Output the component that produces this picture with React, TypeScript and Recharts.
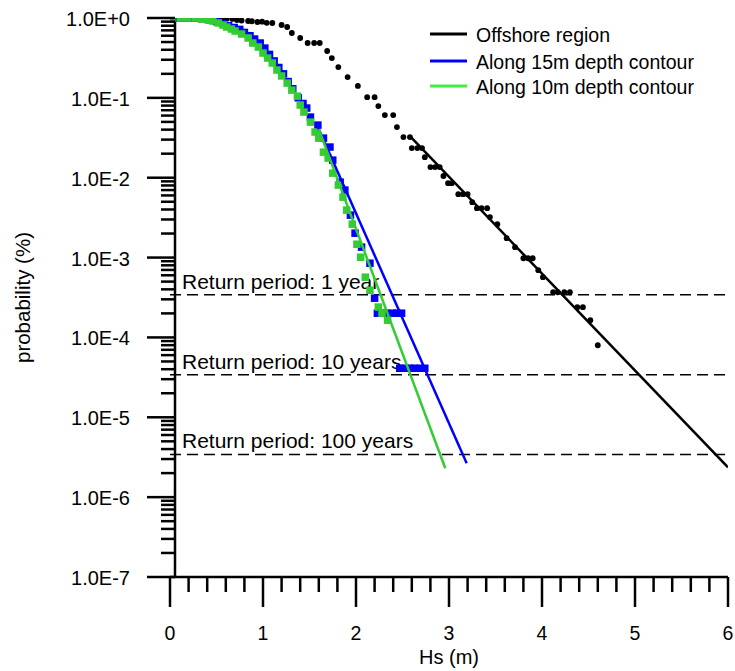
import React from 'react';
import { ScatterChart, Scatter, XAxis, YAxis, ReferenceLine, Legend } from 'recharts';

const FONT = '"Liberation Sans", Arial, Helvetica, sans-serif';

// Offshore region: empirical exceedance probability (black dots)
const offshoreHs = [
  0.05, 0.12, 0.2, 0.3, 0.38, 0.45, 0.52, 0.57, 0.61, 0.67, 0.72, 0.77, 0.84, 0.88, 0.94, 0.99,
  1.04, 1.1, 1.2, 1.26, 1.31, 1.4, 1.48, 1.55, 1.61, 1.69, 1.74, 1.81, 1.91, 2.02, 2.12, 2.2,
  2.24, 2.31, 2.4, 2.44, 2.51, 2.58, 2.6, 2.66, 2.71, 2.74, 2.8, 2.85, 2.9, 2.94, 2.99, 3.03,
  3.1, 3.15, 3.2, 3.25, 3.3, 3.35, 3.41, 3.44, 3.52, 3.62, 3.71, 3.8, 3.85, 3.9, 3.96, 4.01,
  4.12, 4.17, 4.24, 4.3, 4.38, 4.44, 4.52, 4.6,
];
const offshoreProb = [
  1, 1, 1, 1, 1, 0.995, 0.99, 0.985, 0.98, 0.975, 0.944, 0.93, 0.917, 0.91, 0.891, 0.9,
  0.87, 0.866, 0.817, 0.771, 0.649, 0.562, 0.486, 0.486, 0.486, 0.386, 0.315, 0.243, 0.182, 0.141, 0.102, 0.102,
  0.0789, 0.0609, 0.0609, 0.0431, 0.0323, 0.0323, 0.0235, 0.0235, 0.0235, 0.0181, 0.0136, 0.0136, 0.0136, 0.0105, 0.00855, 0.00855,
  0.00623, 0.00623, 0.00623, 0.00494, 0.00415, 0.00415, 0.00415, 0.00321, 0.00262, 0.00175, 0.00135, 0.00098, 0.00098, 0.00098, 0.000695, 0.000568,
  0.000368, 0.000368, 0.000368, 0.000368, 0.000239, 0.000239, 0.000164, 0.0000798,
];

// Along 15m depth contour (blue squares)
const depth15Hs = [
  0.02, 0.1, 0.18, 0.26, 0.34, 0.43, 0.5, 0.57, 0.63, 0.69, 0.75, 0.8, 0.86, 0.91, 0.97, 1.02,
  1.07, 1.12, 1.17, 1.22, 1.27, 1.32, 1.38, 1.43, 1.47, 1.51, 1.59, 1.65, 1.72, 1.75, 1.83, 1.88,
  1.94, 1.99, 2.06, 2.15, 2.2, 2.23, 2.28, 2.33, 2.39, 2.44, 2.49, 2.47, 2.53, 2.58, 2.63, 2.69, 2.74,
];
const depth15Prob = [
  1, 1, 1, 1, 0.98, 0.95, 0.9, 0.85, 0.8, 0.76, 0.72, 0.66, 0.6, 0.545, 0.486, 0.42,
  0.35, 0.29, 0.24, 0.2, 0.16, 0.13, 0.1, 0.085, 0.0745, 0.0574, 0.0456, 0.0313, 0.0242, 0.0166, 0.0088, 0.007,
  0.0034, 0.00202, 0.00135, 0.00085, 0.00031, 0.000201, 0.000201, 0.000201, 0.000201, 0.000201, 0.000201,
  0.0000411, 0.0000411, 0.0000411, 0.0000411, 0.0000411, 0.0000411,
];

// Along 10m depth contour (green squares)
const depth10Hs = [
  0.02, 0.11, 0.19, 0.27, 0.34, 0.41, 0.46, 0.52, 0.57, 0.61, 0.66, 0.7, 0.77, 0.84, 0.89, 0.95,
  1.0, 1.05, 1.1, 1.15, 1.2, 1.26, 1.31, 1.37, 1.4, 1.44, 1.51, 1.56, 1.6, 1.65, 1.7, 1.75,
  1.81, 1.86, 1.9, 1.96, 2.01, 2.05, 2.1, 2.15, 2.24, 2.28, 2.34,
];
const depth10Prob = [
  1, 1, 1, 1, 0.97, 0.944, 0.917, 0.866, 0.817, 0.771, 0.728, 0.687, 0.63, 0.562, 0.486, 0.433,
  0.364, 0.315, 0.273, 0.223, 0.188, 0.153, 0.125, 0.105, 0.0813, 0.0664, 0.0497, 0.0373, 0.0313, 0.0209, 0.0176, 0.0114,
  0.00808, 0.00571, 0.00393, 0.00262, 0.00147, 0.00101, 0.000568, 0.00039, 0.00024, 0.000201, 0.000164,
];

// fitted exponential tails (straight on the log axis)
const offshoreFitHs = [2.58, 6.0];
const offshoreFitProb = [0.0332, 0.00000236];
const depth15FitHs = [1.58, 3.19];
const depth15FitProb = [0.0456, 0.00000265];
const depth10FitHs = [1.6, 2.96];
const depth10FitProb = [0.0406, 0.0000023];

const returnPeriodLabels = ['Return period: 1 year', 'Return period: 10 years', 'Return period: 100 years'];
const returnPeriodProb = [0.000342, 0.0000342, 0.00000342];

const xTicks = [
  0, 0.2, 0.4, 0.6, 0.8, 1, 1.2, 1.4, 1.6, 1.8, 2, 2.2, 2.4, 2.6, 2.8, 3,
  3.2, 3.4, 3.6, 3.8, 4, 4.2, 4.4, 4.6, 4.8, 5, 5.2, 5.4, 5.6, 5.8, 6,
];
const yMajor = [1, 1e-1, 1e-2, 1e-3, 1e-4, 1e-5, 1e-6, 1e-7];
const yTickLabels = ['1.0E+0', '1.0E-1', '1.0E-2', '1.0E-3', '1.0E-4', '1.0E-5', '1.0E-6', '1.0E-7'];

const legendNames = ['Offshore region', 'Along 15m depth contour', 'Along 10m depth contour'];
const legendColors = ['#000000', '#0000ff', '#44ee44'];

const BLUE = '#0000ff';
const GREEN = '#33cc33';

const zip = (xs: number[], ys: number[]) => xs.map((x, i) => ({ x, y: ys[i] }));

// minor log ticks 2..9 within each decade
const yTicks: number[] = [...yMajor];
yMajor.slice(1).forEach((d) => {
  for (let m = 2; m <= 9; m++) yTicks.push(m * d);
});

function YTick(props: any) {
  const { x, y, payload } = props;
  const i = yMajor.indexOf(payload.value);
  const major = i >= 0;
  return (
    <g>
      <line x1={x + 5 - (major ? 28 : 14)} x2={x + 5} y1={y} y2={y} stroke="#000" strokeWidth={2.5} />
      {major && (
        <text x={x - 40} y={y + 1} textAnchor="end" dominantBaseline="central" fontSize={20} fontFamily={FONT} fill="#000">
          {yTickLabels[i]}
        </text>
      )}
    </g>
  );
}

function XTick(props: any) {
  const { x, y, payload } = props;
  const major = Number.isInteger(payload.value);
  return (
    <g>
      <line x1={x} x2={x} y1={y} y2={y + (major ? 30 : 15)} stroke="#000" strokeWidth={2.5} />
      {major && (
        <text x={x} y={y + 56} textAnchor="middle" dominantBaseline="central" fontSize={19.5} fontFamily={FONT} fill="#000">
          {payload.value}
        </text>
      )}
    </g>
  );
}

const Dot = (p: any) => <circle cx={p.cx} cy={p.cy} r={2.9} fill="#000" />;
const square = (color: string) => (p: any) => (
  <rect x={p.cx - 3.75} y={p.cy - 3.75} width={7.5} height={7.5} fill={color} />
);
const NoMark = () => <g />;

function LegendBox() {
  const rowY = [14, 41, 66];
  return (
    <svg width={310} height={84} style={{ display: 'block' }}>
      {legendNames.map((name, i) => (
        <g key={name}>
          <line x1={5} x2={42} y1={rowY[i]} y2={rowY[i]} stroke={legendColors[i]} strokeWidth={3} />
          <text x={51} y={rowY[i] + 1} dominantBaseline="central" fontSize={19.5} fontFamily={FONT} fill="#000">
            {name}
          </text>
        </g>
      ))}
    </svg>
  );
}

function ReturnLabel(props: any) {
  const { viewBox, text } = props;
  return (
    <text x={viewBox.x + 12} y={viewBox.y - 6} fontSize={21} fontFamily={FONT} fill="#000">
      {text}
    </text>
  );
}

export default function App() {
  return (
    <div style={{ position: 'absolute', left: 0, top: 0, width: 735, height: 671, background: '#fff', fontFamily: FONT }}>
      <ScatterChart width={735} height={671} margin={{ top: 18, right: 7, left: 70, bottom: 34 }}>
        <XAxis
          type="number"
          dataKey="x"
          domain={[0, 6]}
          ticks={xTicks}
          interval={0}
          allowDataOverflow
          tickLine={false}
          tickSize={0}
          tickMargin={0}
          tick={<XTick />}
          height={60}
          axisLine={{ stroke: '#000', strokeWidth: 2.5 }}
          label={(p: any) => (
            <text
              x={p.viewBox.x + p.viewBox.width / 2}
              y={p.viewBox.y + 80}
              textAnchor="middle"
              dominantBaseline="central"
              fontSize={20}
              fontFamily={FONT}
              fill="#000"
            >
              Hs (m)
            </text>
          )}
        />
        <YAxis
          type="number"
          dataKey="y"
          scale="log"
          domain={[1e-7, 1]}
          ticks={yTicks}
          interval={0}
          allowDataOverflow
          tickLine={false}
          tickSize={0}
          tickMargin={0}
          tick={<YTick />}
          width={100}
          axisLine={{ stroke: '#000', strokeWidth: 2.5, transform: 'translate(5 0)' }}
          label={(p: any) => {
            const cx = p.viewBox.x - 48;
            const cy = p.viewBox.y + p.viewBox.height / 2;
            return (
              <text
                x={cx}
                y={cy}
                transform={`rotate(-90 ${cx} ${cy})`}
                textAnchor="middle"
                dominantBaseline="central"
                fontSize={20.5}
                fontFamily={FONT}
                fill="#000"
              >
                probability (%)
              </text>
            );
          }}
        />
        {returnPeriodProb.map((p, i) => (
          <ReferenceLine
            key={p}
            y={p}
            stroke="#000"
            strokeWidth={1.5}
            strokeDasharray="11 6"
            label={(lp: any) => <ReturnLabel {...lp} text={returnPeriodLabels[i]} />}
          />
        ))}
        <Legend
          layout="vertical"
          align="center"
          verticalAlign="middle"
          wrapperStyle={{ top: 20, left: 425, width: 310, height: 84 }}
          content={() => <LegendBox />}
        />
        <Scatter name="Offshore region" data={zip(offshoreHs, offshoreProb)} fill="#000" shape={Dot} isAnimationActive={false} />
        <Scatter
          data={zip(offshoreFitHs, offshoreFitProb)}
          fill="#000"
          line={{ stroke: '#000', strokeWidth: 2.5 }}
          shape={NoMark}
          isAnimationActive={false}
        />
        <Scatter name="Along 15m depth contour" data={zip(depth15Hs, depth15Prob)} fill={BLUE} shape={square(BLUE)} isAnimationActive={false} />
        <Scatter name="Along 10m depth contour" data={zip(depth10Hs, depth10Prob)} fill={GREEN} shape={square(GREEN)} isAnimationActive={false} />
        <Scatter
          data={zip(depth15FitHs, depth15FitProb)}
          fill={BLUE}
          line={{ stroke: BLUE, strokeWidth: 2.5 }}
          shape={NoMark}
          isAnimationActive={false}
        />
        <Scatter
          data={zip(depth10FitHs, depth10FitProb)}
          fill={GREEN}
          line={{ stroke: GREEN, strokeWidth: 2.5 }}
          shape={NoMark}
          isAnimationActive={false}
        />
      </ScatterChart>
    </div>
  );
}
